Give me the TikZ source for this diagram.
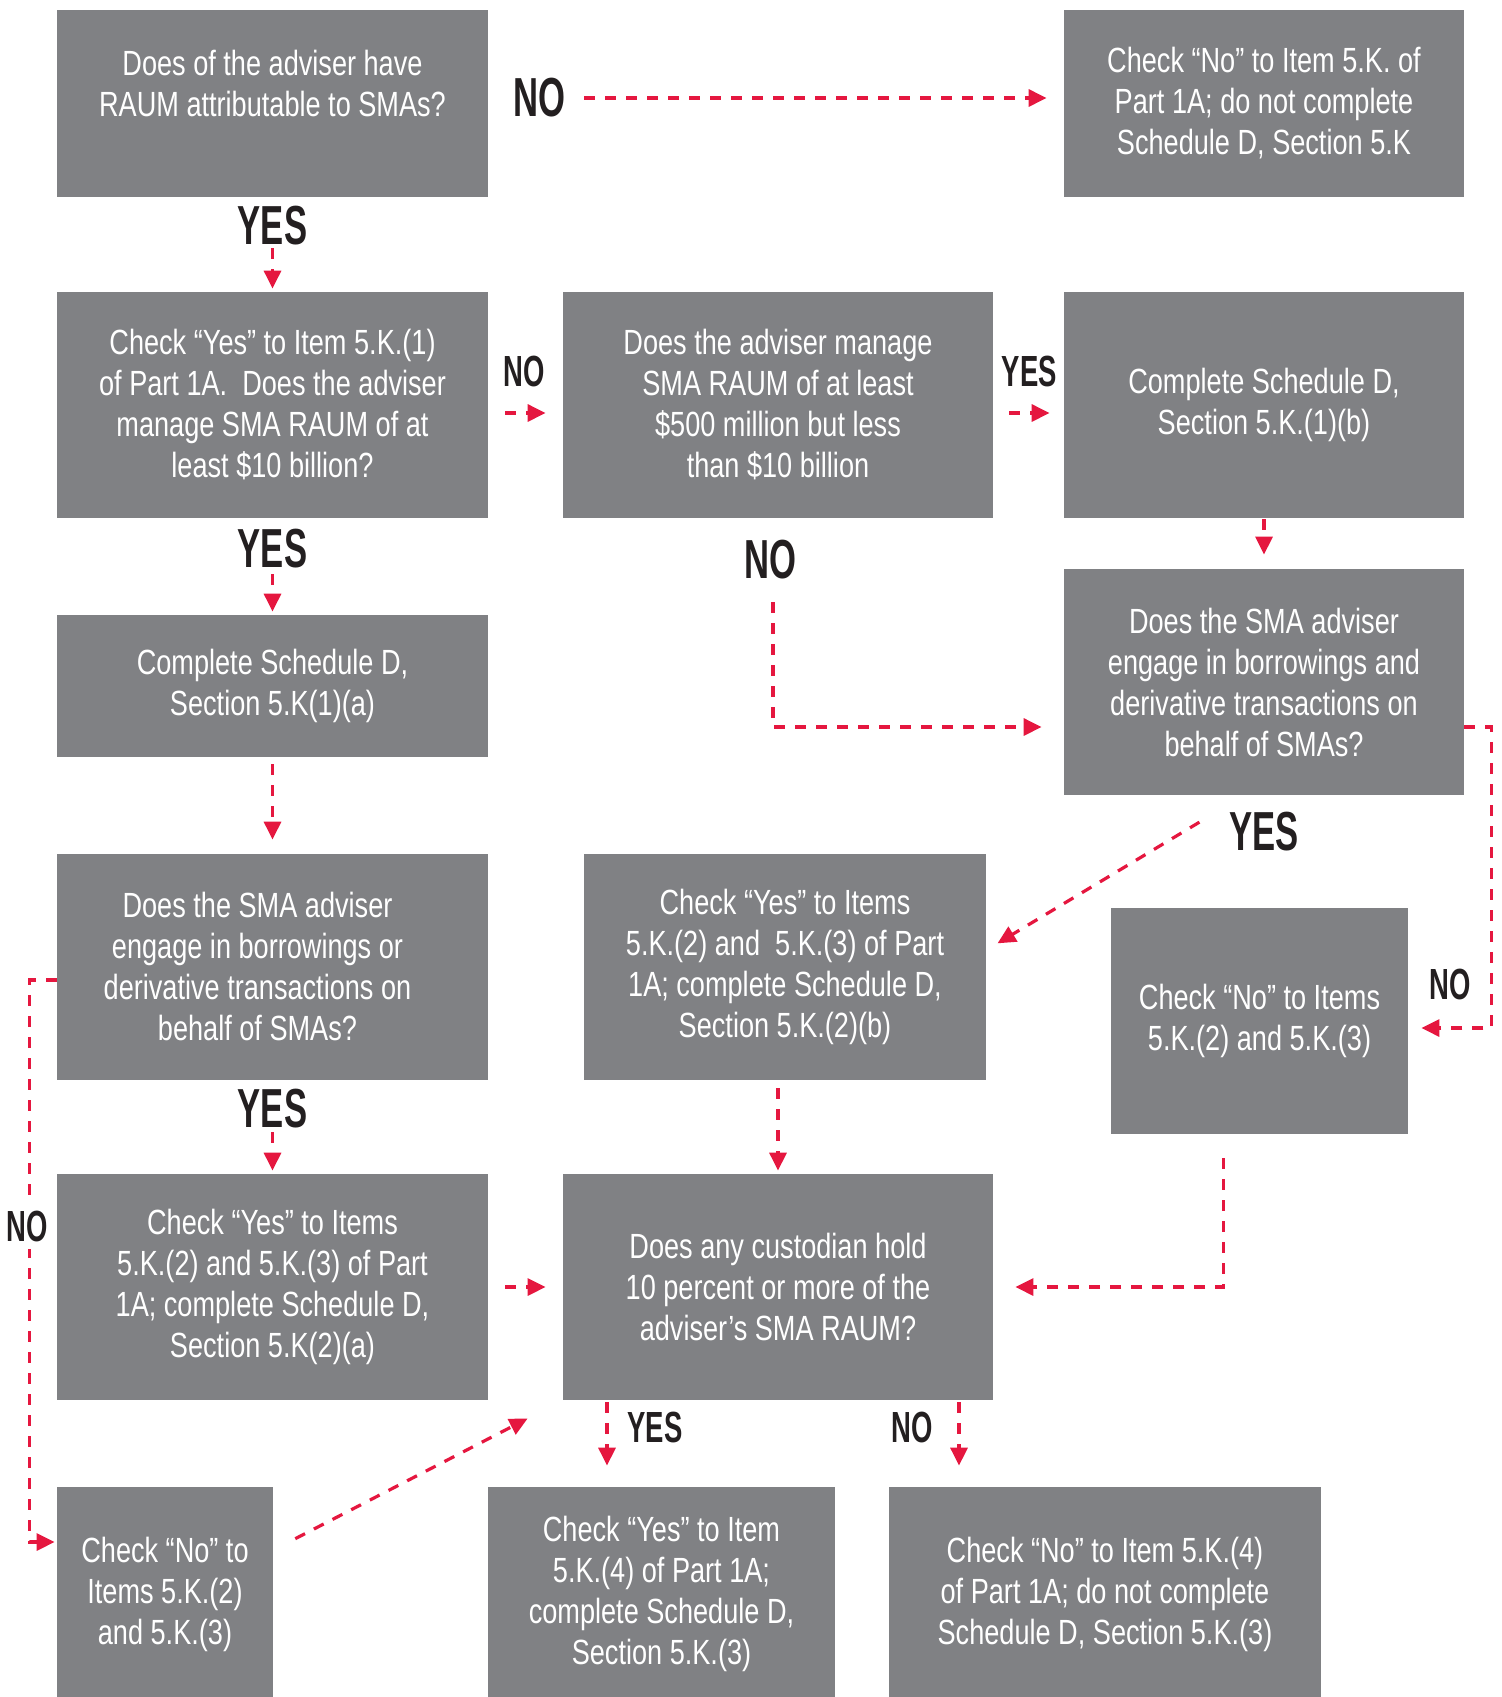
\documentclass[tikz,border=0pt]{standalone}
\usepackage{fontspec}
\setmainfont{Liberation Sans}[FakeStretch=0.775]
\newfontfamily\lblfont{Liberation Sans}[FakeStretch=0.63]
\usepackage{tikz}
\usetikzlibrary{arrows.meta,positioning,calc}
\definecolor{boxgray}{HTML}{808184}
\definecolor{lcflow}{HTML}{E5173F}
\definecolor{lcdark}{HTML}{231F20}

\begin{document}
\begin{tikzpicture}[%
    >={Triangle[length=9pt,width=8.5pt]}, % filled red tips
    every node/.style={inner sep=0pt}]
% -------------------------------------------------
% Box styles; every box is placed on grid from its neighbour
\tikzset{
  base/.style={fill=boxgray, text=white, on grid, align=center,
    font=\fontsize{17.5}{20.5}\selectfont},
  quest/.style={base, minimum width=215.5pt, minimum height=113pt},
  side/.style={base, minimum width=200pt, minimum height=113pt},
  last/.style={base, minimum height=107pt},
  % answer labels (centred on the point that positioning gives)
  ans/.style={text=lcdark, font=\lblfont\bfseries\fontsize{27.5}{28}\selectfont},
  anssm/.style={ans, font=\lblfont\bfseries\fontsize{21.8}{22}\selectfont},
  % -------------------------------------------------
  % connector line style
  flow/.style={->, draw=lcflow, line width=1.6pt, dash pattern=on 5.5pt off 5pt}
}
\path[use as bounding box, fill=white] (0,0) rectangle (751pt,-848.5pt);

% -------------------------------------------------
% Left column
\node [quest, minimum height=93.5pt] (b1) at (136.25pt,-51.75pt)
  {Does of the adviser have\\RAUM attributable to SMAs?\\~};
\node [quest, below=150.75pt of b1] (b3)
  {Check “Yes” to Item 5.K.(1)\\of Part 1A.~ Does the adviser\\manage SMA RAUM of at\\least \$10 billion?};
\node [quest, minimum height=71pt, below=140.5pt of b3] (b6)
  {Complete Schedule D,\\Section 5.K(1)(a)};
\node [quest, below=140.5pt of b6] (b8)
  {\raisebox{-2pt}[\height][\depth]{\begin{tabular}{@{}c@{\hspace{15pt}}}Does the SMA adviser\\engage in borrowings or\\derivative transactions on\\behalf of SMAs?\end{tabular}}};
\node [quest, below=160pt of b8] (b11)
  {Check “Yes” to Items\\5.K.(2) and 5.K.(3) of Part\\1A; complete Schedule D,\\Section 5.K(2)(a)};
\node [last, minimum width=108pt, below=153.5pt of b11, xshift=-53.75pt] (b13)
  {Check “No” to\\Items 5.K.(2)\\and 5.K.(3)};

% Middle column
\node [quest, minimum width=215pt, right=252.75pt of b3] (b4)
  {Does the adviser manage\\SMA RAUM of at least\\\$500 million but less\\than \$10 billion};
\node [quest, minimum width=201pt, right=256.25pt of b8] (b9)
  {Check “Yes” to Items\\5.K.(2) and~ 5.K.(3) of Part\\1A; complete Schedule D,\\Section 5.K.(2)(b)};
\node [quest, minimum width=215pt, right=252.75pt of b11] (b12)
  {Does any custodian hold\\10 percent or more of the\\adviser’s SMA RAUM?};
\node [last, minimum width=173.5pt, below=153.5pt of b12, xshift=-58.25pt] (b14)
  {Check “Yes” to Item\\5.K.(4) of Part 1A;\\complete Schedule D,\\Section 5.K.(3)};
\node [last, minimum width=216pt, right=221.75pt of b14] (b15)
  {Check “No” to Item 5.K.(4)\\of Part 1A; do not complete\\Schedule D, Section 5.K.(3)};

% Right column
\node [side, minimum height=93.5pt, right=495.75pt of b1] (b2)
  {Check “No” to Item 5.K. of\\Part 1A; do not complete\\Schedule D, Section 5.K};
\node [side, right=243pt of b4] (b5)
  {Complete Schedule D,\\Section 5.K.(1)(b)};
\node [side, below=138.5pt of b5] (b7)
  {Does the SMA adviser\\engage in borrowings and\\derivative transactions on\\behalf of SMAs?};
\node [side, minimum width=148.5pt, below=169.5pt of b7, xshift=-2.25pt] (b10)
  {Check “No” to Items\\5.K.(2) and 5.K.(3)};

% -------------------------------------------------
% Straight connectors
\draw [flow, shorten <=48pt, shorten >=8.5pt] ($(b1.east)+(0,2.75pt)$) -- ($(b2.west)+(0,2.75pt)$);
\draw [flow, shorten <=25.5pt, shorten >=1.5pt] (b1) -- (b3);
\draw [flow, shorten <=8.5pt, shorten >=8.5pt] ([yshift=-4pt]b3.east) -- ([yshift=-4pt]b4.west);
\draw [flow, shorten <=8pt, shorten >=7pt] ([yshift=-4pt]b4.east) -- ([yshift=-4pt]b5.west);
\draw [flow, shorten <=28pt, shorten >=1.5pt] (b3) -- (b6);
\draw [flow, shorten <=0.5pt, shorten >=7pt] (b5) -- (b7);
\draw [flow, shorten <=3.5pt, shorten >=7pt] (b6) -- (b8);
\draw [flow, shorten <=26pt, shorten >=1.5pt] (b8) -- (b11);
\draw [flow, shorten <=4pt, shorten >=1.5pt] (b12 |- b9.south) -- (b12.north);
\draw [flow, shorten <=8.5pt, shorten >=8.5pt] (b11) -- (b12);

\coordinate (c1) at ([xshift=-27.25pt]b14.north);
\coordinate (c2) at ([xshift=-73pt]b15.north);
\draw [flow, shorten <=1pt, shorten >=10.5pt] (c1 |- b12.south) -- (c1);
\draw [flow, shorten <=1pt, shorten >=10.5pt] (c2 |- b12.south) -- (c2);

% -------------------------------------------------
% The twisty connectors
\draw [flow, shorten <=42pt, shorten >=11pt] ([xshift=-2.5pt]b4.south) |- ([yshift=-22.5pt]b7.west);
\draw [flow, shorten >=6.5pt] ([yshift=-22.5pt]b7.east) -- ++(13.5pt,0) |- ([yshift=-3.5pt]b10.east);
\draw [flow, shorten >=1pt] ([yshift=-6.5pt]b8.west) -- ++(-13.5pt,0) |- ([yshift=26pt]b13.west);
\draw [flow, shorten <=12pt, shorten >=11pt] ([xshift=-18pt]b10.south) |- (b12.east);

% diagonals
\draw [flow, shorten <=26pt, shorten >=6.5pt] ([xshift=-10pt]b7.south) -- ([yshift=8.5pt]b9.east);
\draw [flow, shorten <=12.3pt, shorten >=19.7pt] ([yshift=22pt]b13.east) -- (b12.south west);

% -------------------------------------------------
% Answer labels
\node [ans, right=25.5pt of b1.east, yshift=2.75pt, anchor=center] (no1) {NO};
\node [ans, below=14pt of b1.south, anchor=center] (yes1) {YES};
\node [ans, below=15pt of b3.south, anchor=center] (yes2) {YES};
\node [ans, below=20.5pt of b4.south, xshift=-4pt, anchor=center] (no2) {NO};
\node [ans, below=18pt of b7.south, anchor=center] (yes3) {YES};
\node [ans, below=14pt of b8.south, anchor=center] (yes4) {YES};

\node [anssm, right=18pt of b3.east, yshift=17pt, anchor=center] (no3) {NO};
\node [anssm, right=18pt of b4.east, yshift=17pt, anchor=center] (yes5) {YES};
\node [anssm, right=21pt of b10.east, yshift=18.5pt, anchor=center] (no4) {NO};
\node [anssm, fill=white, inner sep=4pt, left=14.5pt of b11.west, yshift=30.5pt, anchor=center] (no5) {NO};
\node [anssm, below=13.5pt of b12.south, xshift=-61.5pt, anchor=center] (yes6) {YES};
\node [anssm, below=13.5pt of b12.south, xshift=67pt, anchor=center] (no6) {NO};
\end{tikzpicture}
\end{document}
